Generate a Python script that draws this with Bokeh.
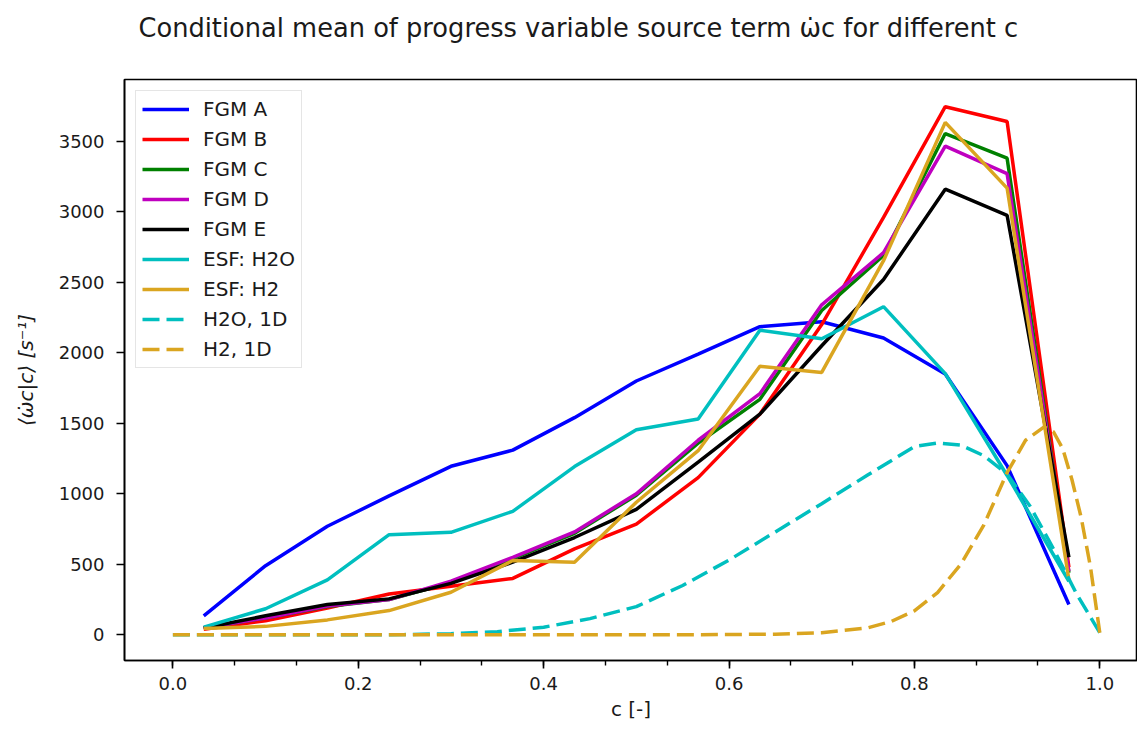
from bokeh.plotting import figure
from bokeh.models import Range1d, SingleIntervalTicker, Legend, LegendItem, Title, PrintfTickFormatter
from bokeh.embed import file_html
from bokeh.resources import INLINE

# ---- data ----
c_bins = [0.0333, 0.1, 0.1667, 0.2333, 0.3, 0.3667, 0.4333, 0.5, 0.5667,
          0.6333, 0.7, 0.7667, 0.8333, 0.9, 0.9667]
fgm_a = [135, 490, 770, 985, 1195, 1310, 1540, 1800, 1990, 2185, 2220, 2105, 1850, 1200, 215]
fgm_b = [40, 100, 190, 290, 345, 400, 610, 785, 1115, 1565, 2200, 2960, 3745, 3640, 480]
fgm_c = [50, 120, 200, 250, 370, 540, 720, 990, 1360, 1670, 2300, 2690, 3555, 3380, 440]
fgm_d = [50, 120, 205, 250, 380, 550, 730, 1000, 1380, 1710, 2340, 2710, 3465, 3270, 450]
fgm_e = [48, 135, 215, 255, 365, 515, 690, 890, 1225, 1565, 2050, 2520, 3160, 2975, 550]
esf_h2o = [55, 185, 390, 710, 727, 876, 1193, 1455, 1530, 2160, 2100, 2327, 1852, 1130, 380]
esf_h2 = [45, 60, 106, 172, 302, 527, 515, 940, 1306, 1904, 1861, 2653, 3634, 3168, 390]

c_1d_h2o = [0.0, 0.05, 0.1, 0.15, 0.2, 0.25, 0.3, 0.35, 0.4, 0.45, 0.5, 0.55, 0.6,
            0.65, 0.7, 0.75, 0.8, 0.825, 0.85, 0.875, 0.9, 0.925, 0.95, 0.975, 1.0]
h2o_1d = [0, 0, 0, 0, 0, 2, 8, 22, 54, 115, 200, 350, 530, 730, 930, 1135, 1335,
          1360, 1345, 1270, 1140, 910, 610, 290, 15]
c_1d_h2 = [0.0, 0.1, 0.2, 0.3, 0.4, 0.5, 0.6, 0.65, 0.7, 0.75, 0.775, 0.8, 0.825,
           0.85, 0.875, 0.9, 0.92, 0.94, 0.95, 0.96, 0.97, 0.98, 0.99, 1.0]
h2_1d = [0, 0, 0, 0, 0, 0, 2, 5, 15, 50, 95, 170, 300, 500, 780, 1150, 1380, 1475,
         1440, 1320, 1100, 830, 480, 15]

labels = ["FGM A", "FGM B", "FGM C", "FGM D", "FGM E", "ESF: H2O", "ESF: H2",
          "H2O, 1D", "H2, 1D"]
colors = ["#0000ff", "#ff0000", "#008000", "#bf00bf", "#000000", "#00bfbf",
          "#daa520", "#00bfbf", "#daa520"]
title_text = "Conditional mean of progress variable source term \u03c9\u0307c for different c"

FONT = "DejaVu Sans"
TXT = "#1a1a1a"

p = figure(width=1137, height=731, output_backend="svg", toolbar_location=None,
           x_range=Range1d(-0.0522, 1.0407), y_range=Range1d(-182, 3938),
           min_border_left=124, min_border_right=0, min_border_top=79,
           min_border_bottom=71, background_fill_color="white",
           border_fill_color="white")

# a second (blank) line lifts the title to the top of the space above the frame
p.title = Title(text=title_text + "\n ", align="left", offset=14, vertical_align="top",
                text_font_size="25.7px", text_font=FONT, text_font_style="normal",
                text_color=TXT, standoff=10)

p.xgrid.visible = False
p.ygrid.visible = False
p.outline_line_color = "black"
p.outline_line_width = 1.6

p.xaxis.ticker = SingleIntervalTicker(interval=0.2, num_minor_ticks=3)
p.yaxis.ticker = SingleIntervalTicker(interval=500, num_minor_ticks=0)
p.xaxis.formatter = PrintfTickFormatter(format="%.1f")
for ax in (p.xaxis[0], p.yaxis[0]):
    ax.axis_line_width = 1.6
    ax.axis_line_color = "black"
    ax.major_tick_line_width = 1.6
    ax.minor_tick_line_width = 1.4
    ax.major_tick_in = 0
    ax.major_tick_out = 8
    ax.minor_tick_in = 0
    ax.minor_tick_out = 5
    ax.major_label_text_font = FONT
    ax.major_label_text_font_size = "18px"
    ax.major_label_text_color = TXT
    ax.axis_label_text_font = FONT
    ax.axis_label_text_font_size = "20px"
    ax.axis_label_text_color = TXT
    ax.axis_label_text_font_style = "normal"
p.yaxis.minor_tick_line_color = None
p.xaxis.major_label_standoff = 8
p.yaxis.major_label_standoff = 12
p.xaxis.axis_label = "c [-]"
p.xaxis.axis_label_standoff = 4
p.yaxis.axis_label = "\u27e8\u03c9\u0307c|c\u27e9 [s\u207b\u00b9]"
p.yaxis.axis_label_standoff = 18
p.yaxis.axis_label_text_font_style = "italic"

series = [fgm_a, fgm_b, fgm_c, fgm_d, fgm_e, esf_h2o, esf_h2]
items = []
for lab, col, ys in zip(labels[:7], colors[:7], series):
    r = p.line(c_bins, ys, line_color=col, line_width=3.5)
    items.append(LegendItem(label=lab, renderers=[r]))
r = p.line(c_1d_h2o, h2o_1d, line_color=colors[7], line_width=3.5, line_dash="17 7")
items.append(LegendItem(label=labels[7], renderers=[r]))
r = p.line(c_1d_h2, h2_1d, line_color=colors[8], line_width=3.5, line_dash="17 7")
items.append(LegendItem(label=labels[8], renderers=[r]))

legend = Legend(items=items, location="top_left", margin=11, padding=6,
                spacing=6, glyph_width=47, glyph_height=24, label_height=24,
                label_standoff=14, label_text_font=FONT,
                label_text_font_size="20px", label_text_color=TXT,
                border_line_color="#cccccc", border_line_width=1.2,
                background_fill_color="white", background_fill_alpha=0.8)
p.add_layout(legend)

open("out.html", "w").write(file_html(p, INLINE))
